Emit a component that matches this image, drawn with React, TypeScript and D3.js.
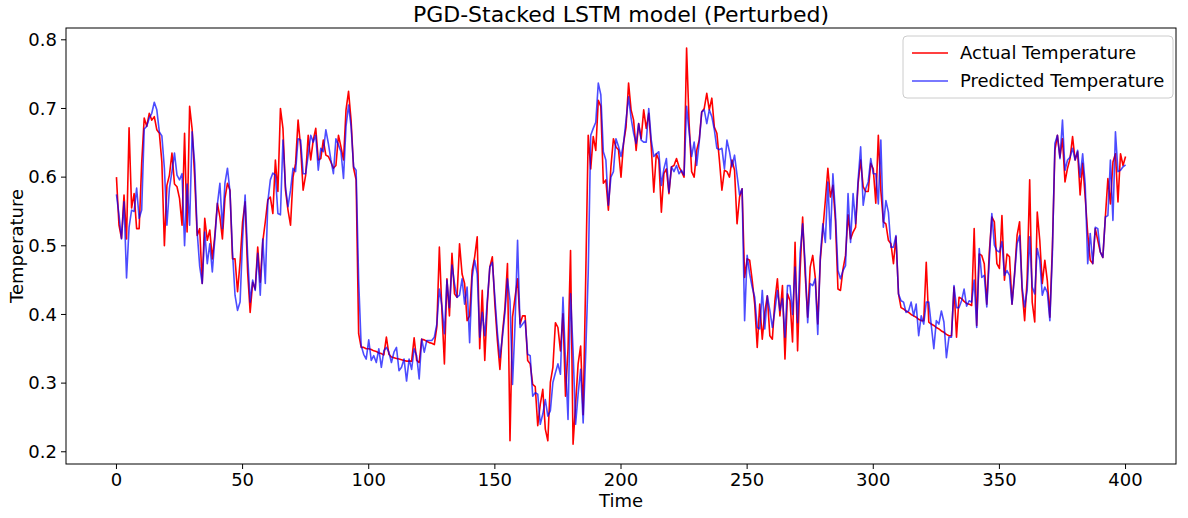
import React from 'react';
import * as d3 from 'd3';

const actual = [
  0.60, 0.53, 0.511, 0.574, 0.51, 0.672, 0.555, 0.576, 0.525, 0.525,
  0.62, 0.686, 0.674, 0.693, 0.683, 0.688, 0.669, 0.664, 0.622, 0.50,
  0.588, 0.603, 0.635, 0.59, 0.586, 0.569, 0.53, 0.664, 0.52, 0.703,
  0.67, 0.60, 0.515, 0.525, 0.445, 0.54, 0.508, 0.523, 0.481, 0.515,
  0.562, 0.542, 0.51, 0.569, 0.591, 0.581, 0.481, 0.481, 0.433, 0.476,
  0.535, 0.564, 0.462, 0.403, 0.447, 0.437, 0.498, 0.447, 0.506, 0.535,
  0.567, 0.571, 0.547, 0.625, 0.579, 0.70, 0.671, 0.581, 0.552, 0.53,
  0.60, 0.62, 0.683, 0.644, 0.581, 0.603, 0.661, 0.625, 0.654, 0.671,
  0.625, 0.627, 0.654, 0.632, 0.63, 0.622, 0.613, 0.617, 0.661, 0.644,
  0.625, 0.698, 0.725, 0.683, 0.613, 0.596, 0.372, 0.352, 0.352, 0.35,
  0.35, 0.349, 0.347, 0.346, 0.344, 0.343, 0.341, 0.367, 0.342, 0.338,
  0.337, 0.336, 0.335, 0.334, 0.333, 0.332, 0.332, 0.332, 0.366, 0.333,
  0.33, 0.364, 0.363, 0.361, 0.359, 0.358, 0.356, 0.382, 0.498, 0.406,
  0.328, 0.452, 0.398, 0.489, 0.43, 0.425, 0.503, 0.459, 0.445, 0.391,
  0.398, 0.464, 0.484, 0.513, 0.35, 0.435, 0.333, 0.415, 0.469, 0.484,
  0.415, 0.362, 0.32, 0.372, 0.41, 0.474, 0.216, 0.396, 0.425, 0.452,
  0.386, 0.398, 0.398, 0.333, 0.328, 0.298, 0.295, 0.238, 0.269, 0.291,
  0.233, 0.216, 0.301, 0.323, 0.388, 0.381, 0.347, 0.401, 0.281, 0.35,
  0.493, 0.211, 0.269, 0.328, 0.354, 0.254, 0.45, 0.661, 0.612, 0.659,
  0.639, 0.712, 0.703, 0.591, 0.596, 0.552, 0.615, 0.656, 0.644, 0.64,
  0.60, 0.649, 0.673, 0.737, 0.698, 0.683, 0.639, 0.678, 0.656, 0.698,
  0.671, 0.693, 0.644, 0.578, 0.634, 0.625, 0.549, 0.605, 0.612, 0.576,
  0.615, 0.617, 0.627, 0.615, 0.608, 0.60, 0.788, 0.678, 0.608, 0.60,
  0.639, 0.654, 0.695, 0.70, 0.722, 0.698, 0.715, 0.673, 0.664, 0.625,
  0.581, 0.61, 0.608, 0.60, 0.625, 0.61, 0.532, 0.571, 0.583, 0.454,
  0.481, 0.479, 0.45, 0.415, 0.352, 0.415, 0.364, 0.403, 0.427, 0.369,
  0.364, 0.42, 0.452, 0.398, 0.442, 0.335, 0.43, 0.42, 0.36, 0.505,
  0.347, 0.464, 0.542, 0.459, 0.396, 0.469, 0.486, 0.454, 0.386, 0.479,
  0.523, 0.566, 0.613, 0.571, 0.588, 0.537, 0.437, 0.435, 0.466, 0.486,
  0.545, 0.51, 0.52, 0.527, 0.591, 0.625, 0.586, 0.579, 0.579, 0.62,
  0.612, 0.562, 0.661, 0.58, 0.535, 0.532, 0.508, 0.503, 0.474, 0.513,
  0.43, 0.41, 0.408, 0.405, 0.403, 0.40, 0.398, 0.396, 0.393, 0.391,
  0.391, 0.476, 0.389, 0.386, 0.384, 0.381, 0.379, 0.376, 0.374, 0.371,
  0.369, 0.369, 0.44, 0.367, 0.425, 0.423, 0.419, 0.416, 0.415, 0.413,
  0.525, 0.384, 0.488, 0.486, 0.474, 0.415, 0.491, 0.542, 0.535, 0.474,
  0.467, 0.544, 0.45, 0.488, 0.484, 0.415, 0.459, 0.515, 0.535, 0.435,
  0.391, 0.452, 0.596, 0.418, 0.389, 0.549, 0.508, 0.445, 0.479, 0.449,
  0.396, 0.498, 0.639, 0.661, 0.629, 0.656, 0.593, 0.613, 0.627, 0.659,
  0.625, 0.637, 0.574, 0.62, 0.571, 0.518, 0.479, 0.474, 0.525, 0.508,
  0.491, 0.483, 0.542, 0.598, 0.561, 0.622, 0.634, 0.564, 0.634, 0.617,
  0.63,
];

const predicted = [
  0.575, 0.545, 0.51, 0.564, 0.453, 0.527, 0.552, 0.55, 0.584, 0.54,
  0.552, 0.67, 0.674, 0.686, 0.693, 0.709, 0.698, 0.666, 0.66, 0.613,
  0.53, 0.584, 0.608, 0.635, 0.603, 0.596, 0.605, 0.50, 0.59, 0.53,
  0.666, 0.62, 0.52, 0.47, 0.445, 0.52, 0.474, 0.503, 0.462, 0.51,
  0.56, 0.591, 0.525, 0.591, 0.613, 0.579, 0.491, 0.428, 0.406, 0.418,
  0.51, 0.574, 0.486, 0.418, 0.45, 0.435, 0.489, 0.428, 0.51, 0.445,
  0.564, 0.596, 0.606, 0.603, 0.547, 0.545, 0.654, 0.586, 0.557, 0.581,
  0.613, 0.608, 0.656, 0.654, 0.605, 0.605, 0.632, 0.661, 0.651, 0.661,
  0.61, 0.642, 0.637, 0.669, 0.649, 0.625, 0.605, 0.656, 0.647, 0.637,
  0.598, 0.674, 0.705, 0.674, 0.615, 0.61, 0.45, 0.355, 0.342, 0.335,
  0.363, 0.333, 0.34, 0.33, 0.35, 0.323, 0.347, 0.352, 0.345, 0.33,
  0.345, 0.352, 0.318, 0.323, 0.335, 0.303, 0.335, 0.32, 0.35, 0.34,
  0.306, 0.364, 0.345, 0.362, 0.362, 0.362, 0.367, 0.386, 0.437, 0.413,
  0.372, 0.45, 0.41, 0.472, 0.445, 0.425, 0.428, 0.452, 0.415, 0.44,
  0.359, 0.454, 0.479, 0.459, 0.367, 0.403, 0.369, 0.42, 0.469, 0.476,
  0.425, 0.374, 0.337, 0.367, 0.403, 0.452, 0.42, 0.298, 0.386, 0.508,
  0.381, 0.386, 0.391, 0.342, 0.34, 0.281, 0.286, 0.284, 0.24, 0.255,
  0.276, 0.252, 0.26, 0.301, 0.315, 0.328, 0.313, 0.425, 0.332, 0.247,
  0.43, 0.347, 0.24, 0.284, 0.32, 0.242, 0.342, 0.46, 0.661, 0.671,
  0.68, 0.737, 0.72, 0.637, 0.625, 0.559, 0.60, 0.608, 0.656, 0.645,
  0.63, 0.649, 0.683, 0.717, 0.686, 0.664, 0.649, 0.678, 0.654, 0.651,
  0.651, 0.70, 0.654, 0.63, 0.634, 0.637, 0.588, 0.612, 0.627, 0.578,
  0.615, 0.608, 0.617, 0.605, 0.61, 0.603, 0.703, 0.666, 0.63, 0.651,
  0.617, 0.651, 0.695, 0.698, 0.678, 0.698, 0.688, 0.669, 0.642, 0.64,
  0.642, 0.612, 0.654, 0.637, 0.615, 0.632, 0.603, 0.574, 0.583, 0.391,
  0.486, 0.459, 0.44, 0.425, 0.381, 0.379, 0.435, 0.379, 0.427, 0.406,
  0.381, 0.406, 0.435, 0.406, 0.423, 0.367, 0.442, 0.442, 0.40, 0.469,
  0.388, 0.489, 0.532, 0.474, 0.388, 0.445, 0.442, 0.452, 0.371, 0.484,
  0.532, 0.505, 0.593, 0.51, 0.605, 0.547, 0.464, 0.452, 0.464, 0.471,
  0.576, 0.505, 0.576, 0.532, 0.596, 0.644, 0.559, 0.583, 0.593, 0.627,
  0.605, 0.605, 0.561, 0.654, 0.527, 0.566, 0.549, 0.498, 0.498, 0.515,
  0.43, 0.42, 0.418, 0.403, 0.405, 0.418, 0.398, 0.415, 0.369, 0.398,
  0.386, 0.418, 0.418, 0.384, 0.35, 0.391, 0.386, 0.405, 0.389, 0.337,
  0.367, 0.367, 0.442, 0.41, 0.41, 0.42, 0.437, 0.412, 0.42, 0.418,
  0.45, 0.381, 0.496, 0.454, 0.457, 0.411, 0.479, 0.547, 0.501, 0.493,
  0.491, 0.506, 0.457, 0.464, 0.457, 0.415, 0.457, 0.503, 0.515, 0.44,
  0.411, 0.435, 0.513, 0.44, 0.43, 0.496, 0.479, 0.428, 0.44, 0.432,
  0.391, 0.488, 0.649, 0.661, 0.627, 0.683, 0.61, 0.625, 0.629, 0.642,
  0.625, 0.639, 0.60, 0.634, 0.59, 0.474, 0.518, 0.474, 0.527, 0.525,
  0.491, 0.483, 0.542, 0.544, 0.625, 0.537, 0.666, 0.608, 0.61, 0.615,
  0.618,
];

const xTicks = [0, 50, 100, 150, 200, 250, 300, 350, 400];
const yTicks = [0.2, 0.3, 0.4, 0.5, 0.6, 0.7, 0.8];
const seriesNames = ['Actual Temperature', 'Predicted Temperature'];

const W = 1188;
const H = 518;
const left = 66, right = 1176, top = 28, bottom = 464;
const font = 'DejaVu Sans, sans-serif';

export default function App() {
  const x = d3.scaleLinear().domain([-20, 420]).range([left, right]);
  const y = d3.scaleLinear().domain([0.1822, 0.8172]).range([bottom, top]);

  const line = d3.line<number>()
    .x((d, i) => x(i))
    .y(d => y(d));

  return (
    <div style={{ position: 'absolute', left: 0, top: 0 }}>
      <svg width={W} height={H} style={{ display: 'block', background: '#fff' }}>
        <path d={line(actual) || ''} fill="none" stroke="#ff0000" strokeWidth={1.6} strokeLinejoin="round" />
        <path d={line(predicted) || ''} fill="none" stroke="#0000ff" strokeOpacity={0.7} strokeWidth={1.6} strokeLinejoin="round" />

        <rect x={left} y={top} width={right - left} height={bottom - top} fill="none" stroke="#000" strokeWidth={1} />

        {xTicks.map(t => (
          <g key={'x' + t} transform={`translate(${x(t)},${bottom})`}>
            <line y2={5} stroke="#000" />
            <text y={22} textAnchor="middle" fontFamily={font} fontSize={18}>{t}</text>
          </g>
        ))}
        {yTicks.map(t => (
          <g key={'y' + t} transform={`translate(${left},${y(t)})`}>
            <line x2={-5} stroke="#000" />
            <text x={-9} dy="0.35em" textAnchor="end" fontFamily={font} fontSize={18}>{t.toFixed(1)}</text>
          </g>
        ))}

        <text x={(left + right) / 2} y={22} textAnchor="middle" fontFamily={font} fontSize={22}>
          PGD-Stacked LSTM model (Perturbed)
        </text>
        <text x={(left + right) / 2} y={507} textAnchor="middle" fontFamily={font} fontSize={18}>Time</text>
        <text transform={`translate(23,${(top + bottom) / 2}) rotate(-90)`} textAnchor="middle" fontFamily={font} fontSize={18}>
          Temperature
        </text>

        <g transform="translate(903,36)">
          <rect width={270} height={62} rx={4} fill="#fff" fillOpacity={0.8} stroke="#ccc" />
          {seriesNames.map((name, i) => (
            <g key={name} transform={`translate(0,${17 + i * 28})`}>
              <line x1={9} x2={45} stroke={i === 0 ? '#ff0000' : '#0000ff'} strokeOpacity={i === 0 ? 1 : 0.7} strokeWidth={1.6} />
              <text x={57} dy="0.35em" fontFamily={font} fontSize={18}>{name}</text>
            </g>
          ))}
        </g>
      </svg>
    </div>
  );
}
